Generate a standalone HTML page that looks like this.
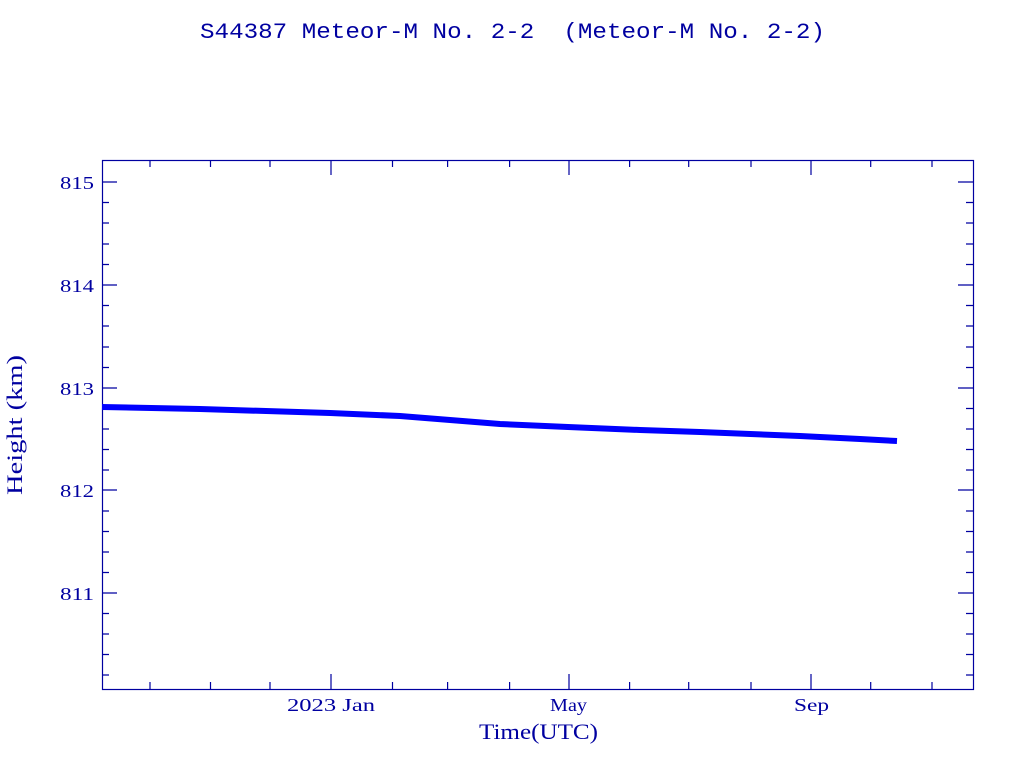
<!DOCTYPE html>
<html><head><meta charset="utf-8"><style>
html,body{margin:0;padding:0;background:#fff;}
svg{display:block;}
text{font-family:"Liberation Serif",serif;fill:#0000a0;}
</style></head><body>
<svg width="1024" height="768" xmlns="http://www.w3.org/2000/svg">
<text x="200" y="38" font-size="22" textLength="625" lengthAdjust="spacingAndGlyphs" xml:space="preserve" style="font-family:'Liberation Mono',monospace">S44387 Meteor-M No. 2-2  (Meteor-M No. 2-2)</text>
<rect x="102.5" y="160.5" width="871" height="529" fill="none" stroke="#0000a0" stroke-width="1.2"/>
<g stroke="#0000a0" stroke-width="1.2">
<path d="M102 182h15M102 285h15M102 388h15M102 490h15M102 593h15M973 182h-15M973 285h-15M973 388h-15M973 490h-15M973 593h-15"/>
<path d="M102 202.5h7M102 223h7M102 244h7M102 264.5h7M102 305.5h7M102 326h7M102 347h7M102 367.5h7M102 408.5h7M102 429h7M102 449.5h7M102 470h7M102 511h7M102 531.5h7M102 552h7M102 572.5h7M102 613.5h7M102 634h7M102 654.5h7M102 675h7
M973 202.5h-7M973 223h-7M973 244h-7M973 264.5h-7M973 305.5h-7M973 326h-7M973 347h-7M973 367.5h-7M973 408.5h-7M973 429h-7M973 449.5h-7M973 470h-7M973 511h-7M973 531.5h-7M973 552h-7M973 572.5h-7M973 613.5h-7M973 634h-7M973 654.5h-7M973 675h-7"/>
<path d="M331 689v-15M569 689v-15M811 689v-15M331 160v15M569 160v15M811 160v15"/>
<path d="M150 689v-7M210.5 689v-7M270 689v-7M392.5 689v-7M447.6 689v-7M509.6 689v-7M629.6 689v-7M688.7 689v-7M751 689v-7M870.7 689v-7M932 689v-7
M150 160v7M210.5 160v7M270 160v7M392.5 160v7M447.6 160v7M509.6 160v7M629.6 160v7M688.7 160v7M751 160v7M870.7 160v7M932 160v7"/>
</g>
<g font-size="18" text-anchor="end">
<text x="94" y="189" textLength="34" lengthAdjust="spacingAndGlyphs">815</text><text x="94" y="292" textLength="34" lengthAdjust="spacingAndGlyphs">814</text><text x="94" y="395" textLength="34" lengthAdjust="spacingAndGlyphs">813</text><text x="94" y="497" textLength="34" lengthAdjust="spacingAndGlyphs">812</text><text x="94" y="600" textLength="34" lengthAdjust="spacingAndGlyphs">811</text>
</g>
<g font-size="18">
<text x="287" y="711" textLength="88" lengthAdjust="spacingAndGlyphs">2023 Jan</text><text x="550" y="711" textLength="37" lengthAdjust="spacingAndGlyphs">May</text><text x="794" y="711" textLength="35" lengthAdjust="spacingAndGlyphs">Sep</text>
</g>
<text x="479" y="739" font-size="22" textLength="119" lengthAdjust="spacingAndGlyphs">Time(UTC)</text>
<text transform="translate(22,425) rotate(-90)" x="-70" y="0" font-size="22" textLength="140" lengthAdjust="spacingAndGlyphs">Height (km)</text>
<polyline points="102,407 200,409 330,413 400,416 450,420 500,424 568,427 640,430 700,432 800,436 860,439 897,441" fill="none" stroke="#0000ff" stroke-width="6"/>
</svg>
</body></html>
